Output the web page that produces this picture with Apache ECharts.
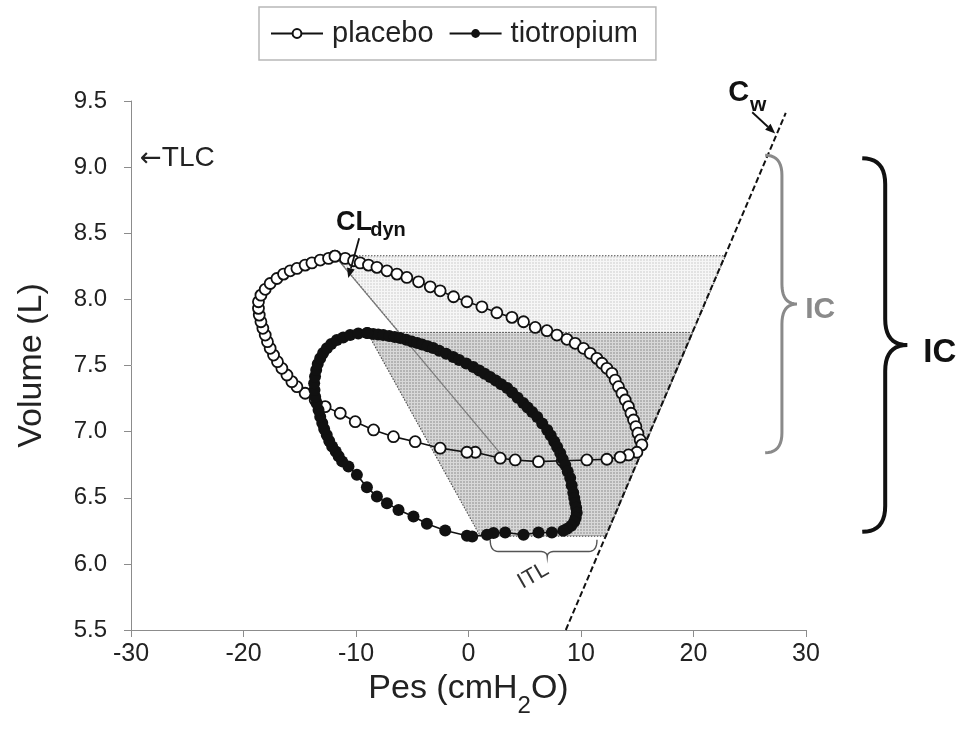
<!DOCTYPE html>
<html>
<head>
<meta charset="utf-8">
<script src="https://cdn.jsdelivr.net/npm/echarts@6/dist/echarts.min.js"></script>
<style>
  html, body { margin: 0; padding: 0; background: #fff; }
  #chart { width: 960px; height: 731px; }
</style>
</head>
<body>
<div id="chart"></div>
<script>
// Pressure–volume loops: oesophageal pressure (Pes) vs lung volume
const FONT = '"Liberation Sans", Arial, Helvetica, sans-serif';

// axis ticks
const pesTicks = [-30, -20, -10, 0, 10, 20, 30];
const volTicks = [5.5, 6.0, 6.5, 7.0, 7.5, 8.0, 8.5, 9.0, 9.5];

// placebo loop (open circles)
const placeboPes = [-11.87, -10.96, -10.22, -9.63, -8.89, -8.14, -7.25, -6.36, -5.48, -4.44, -3.40, -2.52, -1.33, -0.14, 1.19, 2.52, 3.86, 4.89, 5.93, 6.97, 7.86, 8.75, 9.48, 10.22, 10.82, 11.41, 11.86, 12.30, 12.75, 13.04, 13.33, 13.64, 13.93, 14.22, 14.44, 14.67, 14.88, 15.06, 15.26, 15.41,
  14.97, 14.22, 13.48, 12.30, 10.52, 8.33, 6.22, 4.15, 2.82, 0.60, -0.14, -2.52, -4.74, -6.67, -8.44, -10.07, -11.40, -12.74, -13.63,
  -14.52, -15.25, -15.70, -16.14, -16.59, -16.98, -17.33, -17.63, -17.87, -18.07, -18.28, -18.45, -18.60, -18.67, -18.67, -18.45, -18.07, -17.63, -17.03, -16.44, -15.85, -15.25, -14.52, -13.92, -13.18, -12.44, -11.87];
const placeboVol = [8.327, 8.310, 8.292, 8.276, 8.259, 8.242, 8.216, 8.191, 8.166, 8.133, 8.095, 8.065, 8.020, 7.982, 7.944, 7.899, 7.864, 7.831, 7.788, 7.763, 7.730, 7.698, 7.668, 7.630, 7.592, 7.554, 7.517, 7.479, 7.441, 7.390, 7.340, 7.290, 7.239, 7.189, 7.139, 7.088, 7.038, 6.988, 6.937, 6.900,
  6.844, 6.824, 6.807, 6.791, 6.786, 6.780, 6.773, 6.786, 6.799, 6.844, 6.844, 6.875, 6.924, 6.962, 7.013, 7.075, 7.139, 7.189, 7.240,
  7.290, 7.340, 7.378, 7.428, 7.479, 7.529, 7.579, 7.630, 7.680, 7.730, 7.781, 7.831, 7.881, 7.932, 7.982, 8.032, 8.076, 8.120, 8.158, 8.191, 8.216, 8.234, 8.259, 8.276, 8.297, 8.310, 8.327];

// tiotropium loop (filled circles)
const tiotropiumPes = [-9.00, -8.47, -8.03, -7.58, -7.05, -6.56, -6.07, -5.54, -5.05, -4.56, -4.12, -3.63, -3.14, -2.60, -1.98, -1.36, -0.83, -0.20, 0.42, 0.95, 1.44, 1.93, 2.42, 2.91, 3.44, 3.88, 4.37, 4.86, 5.26, 5.66, 6.11, 6.55, 7.00, 7.31, 7.62, 7.88, 8.15, 8.37, 8.60, 8.82, 9.04, 9.17, 9.31, 9.40, 9.48, 9.57, 9.62, 9.53, 9.40, 9.13, 8.77, 8.42,
  7.41, 6.22, 4.89, 3.26, 2.22, 1.64, 0.33, -0.14, -2.07, -3.70, -4.89, -6.22, -7.25, -8.14, -9.03, -9.92, -10.67,
  -11.23, -11.54, -11.80, -12.12, -12.38, -12.60, -12.83, -13.00, -13.18, -13.33, -13.49, -13.63, -13.69, -13.72, -13.64, -13.54, -13.40, -13.18, -12.92, -12.59, -12.20, -11.70, -11.14, -10.52, -9.80, -9.00];
const tiotropiumVol = [7.745, 7.738, 7.734, 7.730, 7.723, 7.715, 7.708, 7.695, 7.682, 7.670, 7.658, 7.645, 7.632, 7.612, 7.588, 7.564, 7.542, 7.515, 7.489, 7.462, 7.437, 7.413, 7.386, 7.359, 7.330, 7.295, 7.256, 7.217, 7.183, 7.149, 7.111, 7.062, 7.013, 6.970, 6.926, 6.884, 6.839, 6.794, 6.748, 6.699, 6.650, 6.594, 6.537, 6.499, 6.461, 6.424, 6.386, 6.348, 6.318, 6.288, 6.265, 6.250,
  6.237, 6.237, 6.220, 6.237, 6.233, 6.220, 6.207, 6.212, 6.252, 6.303, 6.358, 6.408, 6.459, 6.509, 6.580, 6.673, 6.736,
  6.775, 6.813, 6.850, 6.888, 6.930, 6.975, 7.020, 7.066, 7.113, 7.164, 7.214, 7.264, 7.315, 7.366, 7.417, 7.466, 7.511, 7.554, 7.594, 7.630, 7.662, 7.693, 7.711, 7.730, 7.742, 7.745];

// chest wall compliance line (Cw)
const cwPes = [8.65, 28.2];
const cwVol = [5.5, 9.41];

// dynamic lung compliance line for placebo (CLdyn)
const placeboClPes = [-11.87, 3.09];
const placeboClVol = [8.327, 6.809];

// shaded work areas (between CLdyn and Cw, from EELV to EILV)
const placeboAreaPes = [-11.87, 22.85, 15.2, 3.09];
const placeboAreaVol = [8.33, 8.33, 6.81, 6.81];
const tiotropiumAreaPes = [-9.0, 19.95, 12.25, 1.04];
const tiotropiumAreaVol = [7.75, 7.75, 6.21, 6.21];

// annotation anchors [Pes, Vol]
const tlcAt = [-29.2, 9.067];
const clLabelAt = [-11.78, 8.584];
const clSubAt = [-8.74, 8.523];
const clArrow = [[-9.72, 8.463], [-10.69, 8.161]];
const cwLabelAt = [23.08, 9.562];
const cwSubAt = [25.02, 9.47];
const cwArrow = [[25.22, 9.415], [27.26, 9.254]];
const icPlaceboBrace = { x: 27.86, hook: 26.37, tip: 29.19, top: 9.09, bottom: 6.84 };
const icPlaceboLabelAt = [29.93, 7.919];
const icTioBrace = { x: 37.04, hook: 35.0, tip: 39.0, top: 9.067, bottom: 6.242 };
const icTioLabelAt = [40.42, 7.597];
const itlBrace = { left: 1.93, right: 11.42, hookTop: 6.182, line: 6.094, tipX: 7.0, tipY: 6.054 };
const itlLabelAt = [5.75, 5.91];

const zip = (a, b) => a.map((v, i) => [v, b[i]]);

function makePattern(base, line) {
  const c = document.createElement('canvas');
  c.width = 3; c.height = 3;
  const g = c.getContext('2d');
  g.fillStyle = base; g.fillRect(0, 0, 3, 3);
  g.fillStyle = line; g.fillRect(0, 0, 3, 1); g.fillRect(0, 0, 1, 3);
  return { image: c, repeat: 'repeat' };
}

function areaSeries(name, pes, vol, fill) {
  return {
    type: 'custom', name, silent: true, z: 1,
    data: zip(pes, vol),
    renderItem(params, api) {
      if (params.dataIndex !== 0) return;
      const pts = pes.map((p, i) => api.coord([p, vol[i]]));
      return {
        type: 'polygon',
        shape: { points: pts },
        style: { fill, stroke: '#4a4a4a', lineWidth: 1.1, lineDash: [1.5, 1.5] }
      };
    }
  };
}

const chart = echarts.init(document.getElementById('chart'), null, { renderer: 'canvas' });

const axisGray = '#8c8c8c';
const textColor = '#222';

chart.setOption({
  animation: false,
  backgroundColor: '#fff',
  grid: { left: 131, right: 154, top: 101, bottom: 101 },
  legend: {
    data: ['placebo', 'tiotropium'],
    left: 259, top: 7,
    padding: [12, 18, 12, 11],
    itemWidth: 52, itemHeight: 11, itemGap: 15,
    borderColor: '#b8b8b8', borderWidth: 1.5,
    textStyle: { fontSize: 29, color: textColor, fontFamily: FONT, padding: [0, 0, 0, 4] }
  },
  xAxis: {
    type: 'value',
    min: pesTicks[0], max: pesTicks[pesTicks.length - 1], interval: 10,
    axisLine: { show: true, onZero: false, lineStyle: { color: axisGray, width: 1 } },
    axisTick: { show: true, length: 7, lineStyle: { color: axisGray } },
    axisLabel: { fontSize: 25, color: textColor, fontFamily: FONT, margin: 12 },
    splitLine: { show: false },
    name: '{a|Pes (cmH}{s|2}{a|O)}',
    nameLocation: 'middle', nameGap: 34,
    nameTextStyle: {
      fontFamily: FONT, color: textColor,
      rich: {
        a: { fontSize: 34, lineHeight: 40, verticalAlign: 'top', fontFamily: FONT, color: textColor },
        s: { fontSize: 24, lineHeight: 24, padding: [22, 0, 0, 0], verticalAlign: 'top', fontFamily: FONT, color: textColor }
      }
    }
  },
  yAxis: {
    type: 'value',
    min: volTicks[0], max: volTicks[volTicks.length - 1], interval: 0.5,
    axisLine: { show: true, onZero: false, lineStyle: { color: axisGray, width: 1 } },
    axisTick: { show: true, length: 7, lineStyle: { color: axisGray } },
    axisLabel: { fontSize: 24, color: textColor, fontFamily: FONT, margin: 24, formatter: v => v.toFixed(1) },
    splitLine: { show: false },
    name: 'Volume (L)',
    nameLocation: 'middle', nameGap: 82,
    nameTextStyle: { fontSize: 34, color: textColor, fontFamily: FONT }
  },
  series: [
    areaSeries('placebo area', placeboAreaPes, placeboAreaVol, makePattern('#e2e2e2', '#f6f6f6')),
    areaSeries('tiotropium area', tiotropiumAreaPes, tiotropiumAreaVol, makePattern('#b4b4b4', '#d8d8d8')),
    {
      type: 'line', name: 'CLdyn', silent: true, z: 2,
      data: zip(placeboClPes, placeboClVol),
      symbol: 'none', lineStyle: { color: '#7a7a7a', width: 1.2 }
    },
    {
      type: 'line', name: 'Cw', silent: true, z: 2,
      data: zip(cwPes, cwVol),
      symbol: 'none', lineStyle: { color: '#111', width: 2, type: [6, 3] }
    },
    {
      type: 'line', name: 'placebo', z: 3,
      data: zip(placeboPes, placeboVol),
      symbol: 'circle', symbolSize: 11, showAllSymbol: true,
      itemStyle: { color: '#fff', borderColor: '#111', borderWidth: 1.8 },
      lineStyle: { color: '#111', width: 1.6 }
    },
    {
      type: 'line', name: 'tiotropium', z: 4,
      data: zip(tiotropiumPes, tiotropiumVol),
      symbol: 'circle', symbolSize: 12, showAllSymbol: true,
      itemStyle: { color: '#111', borderColor: '#111', borderWidth: 0 },
      lineStyle: { color: '#111', width: 1.6 }
    }
  ]
});

// ---- annotations placed through the axis scales ----
const toPx = (pt) => chart.convertToPixel({ xAxisIndex: 0, yAxisIndex: 0 }, pt);

function quad(p0, c, p1, n) {
  const out = [];
  for (let i = 1; i <= n; i++) {
    const t = i / n, u = 1 - t;
    out.push([u * u * p0[0] + 2 * u * t * c[0] + t * t * p1[0], u * u * p0[1] + 2 * u * t * c[1] + t * t * p1[1]]);
  }
  return out;
}

function vBrace(b, r) {
  const [xs, yTop] = toPx([b.x, b.top]);
  const [, yBot] = toPx([b.x, b.bottom]);
  const [xh] = toPx([b.hook, b.top]);
  const [xt] = toPx([b.tip, b.top]);
  const ym = (yTop + yBot) / 2;
  let pts = [[xh, yTop]];
  pts = pts.concat(quad([xh, yTop], [xs, yTop], [xs, yTop + r], 10));
  pts.push([xs, ym - r]);
  pts = pts.concat(quad([xs, ym - r], [xs, ym], [xt, ym], 10));
  pts = pts.concat(quad([xt, ym], [xs, ym], [xs, ym + r], 10));
  pts.push([xs, yBot - r]);
  pts = pts.concat(quad([xs, yBot - r], [xs, yBot], [xh, yBot], 10));
  return pts;
}

function hBrace(b, r) {
  const [x0, yh] = toPx([b.left, b.hookTop]);
  const [x1] = toPx([b.right, b.hookTop]);
  const [, yl] = toPx([b.left, b.line]);
  const [xt, yt] = toPx([b.tipX, b.tipY]);
  let pts = [[x0, yh]];
  pts = pts.concat(quad([x0, yh], [x0, yl], [x0 + r, yl], 8));
  pts.push([xt - r, yl]);
  pts = pts.concat(quad([xt - r, yl], [xt, yl], [xt, yt], 8));
  pts = pts.concat(quad([xt, yt], [xt, yl], [xt + r, yl], 8));
  pts.push([x1 - r, yl]);
  pts = pts.concat(quad([x1 - r, yl], [x1, yl], [x1, yh], 8));
  return pts;
}

function arrow(a, b, color, w, headLen, headW) {
  const [x0, y0] = toPx(a), [x1, y1] = toPx(b);
  const ang = Math.atan2(y1 - y0, x1 - x0);
  const bx = x1 - headLen * Math.cos(ang), by = y1 - headLen * Math.sin(ang);
  const nx = -Math.sin(ang) * headW / 2, ny = Math.cos(ang) * headW / 2;
  return [
    { type: 'line', z: 100, silent: true, shape: { x1: x0, y1: y0, x2: bx, y2: by }, style: { stroke: color, lineWidth: w } },
    { type: 'polygon', z: 100, silent: true, shape: { points: [[x1, y1], [bx + nx, by + ny], [bx - nx, by - ny]] }, style: { fill: color } }
  ];
}

function label(at, text, size, weight, color, extra) {
  const [x, y] = toPx(at);
  return Object.assign({
    type: 'text', x, y, z: 100, silent: true,
    style: { text, fontSize: size, fontWeight: weight, fontFamily: FONT, fill: color, align: 'left', verticalAlign: 'middle' }
  }, extra || {});
}

const tlcLabel = label(tlcAt, '{ar|\u2190}{t|TLC}', 28, 'normal', textColor);
tlcLabel.style.rich = {
  ar: { fontSize: 26, fontFamily: '"DejaVu Sans", sans-serif', color: textColor, padding: [2, 0, 0, 0] },
  t: { fontSize: 28, fontFamily: FONT, color: textColor }
};

const graphics = [
  tlcLabel,
  label(clLabelAt, 'CL', 27, 'bold', '#111'),
  label(clSubAt, 'dyn', 20, 'bold', '#111'),
  ...arrow(clArrow[0], clArrow[1], '#111', 1.8, 10, 8),
  label(cwLabelAt, 'C', 29, 'bold', '#111'),
  label(cwSubAt, 'w', 21, 'bold', '#111'),
  ...arrow(cwArrow[0], cwArrow[1], '#111', 1.8, 10, 8),
  { type: 'polyline', z: 100, silent: true, shape: { points: vBrace(icPlaceboBrace, 20) }, style: { stroke: '#8a8a8a', lineWidth: 3, fill: null } },
  label(icPlaceboLabelAt, 'IC', 30, 'bold', '#8a8a8a'),
  { type: 'polyline', z: 100, silent: true, shape: { points: vBrace(icTioBrace, 26) }, style: { stroke: '#111', lineWidth: 4, fill: null } },
  label(icTioLabelAt, 'IC', 33, 'bold', '#111'),
  { type: 'polyline', z: 100, silent: true, shape: { points: hBrace(itlBrace, 8) }, style: { stroke: '#555', lineWidth: 1.4, fill: null } },
  (function () {
    const el = label(itlLabelAt, 'ITL', 22, 'normal', '#333');
    el.style.align = 'center';
    el.rotation = Math.PI / 6;
    return el;
  })()
];

chart.setOption({ graphic: graphics });
</script>
</body>
</html>
